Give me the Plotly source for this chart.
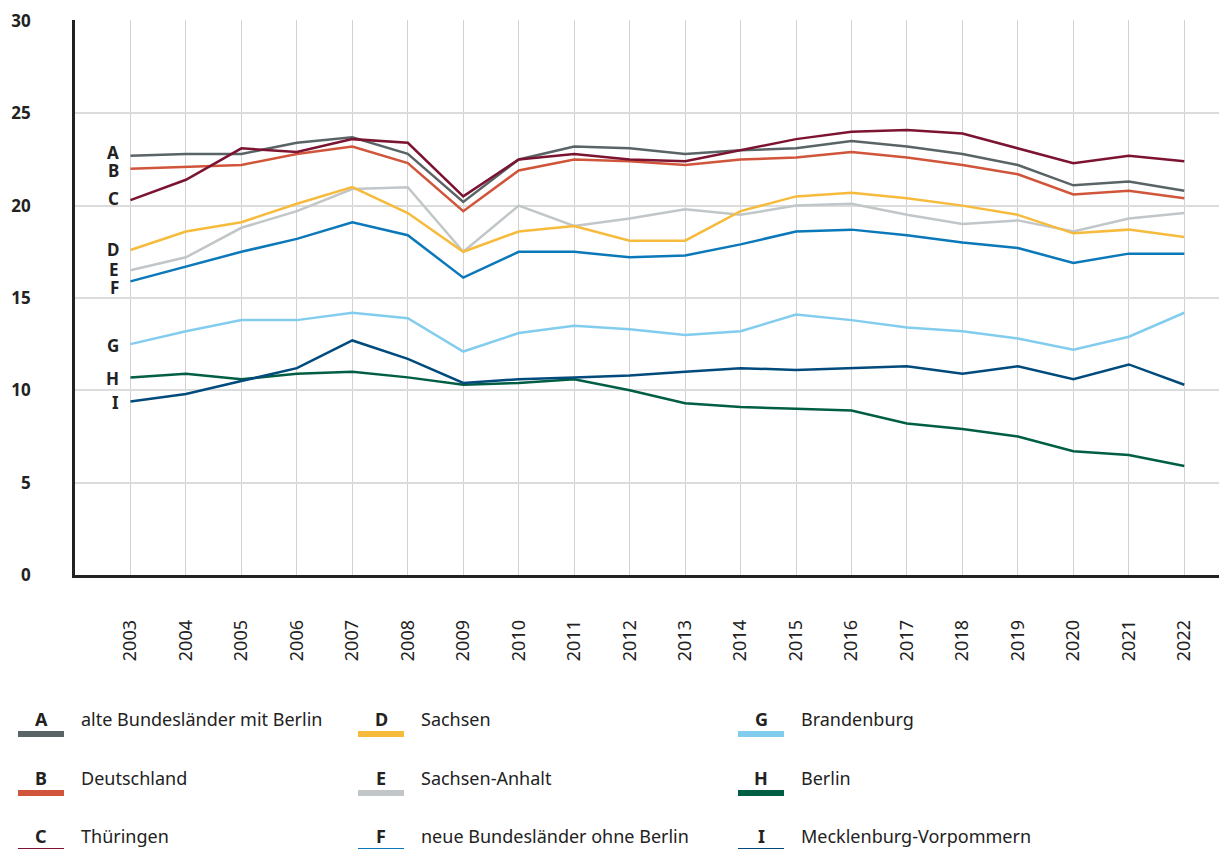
import plotly.graph_objects as go

# ── data ────────────────────────────────────────────────────────────────────
years = list(range(2003, 2023))

alte_laender   = [22.7, 22.8, 22.8, 23.4, 23.7, 22.8, 20.2, 22.5, 23.2, 23.1,
                  22.8, 23.0, 23.1, 23.5, 23.2, 22.8, 22.2, 21.1, 21.3, 20.8]
deutschland    = [22.0, 22.1, 22.2, 22.8, 23.2, 22.3, 19.7, 21.9, 22.5, 22.4,
                  22.2, 22.5, 22.6, 22.9, 22.6, 22.2, 21.7, 20.6, 20.8, 20.4]
thueringen     = [20.3, 21.4, 23.1, 22.9, 23.6, 23.4, 20.5, 22.5, 22.8, 22.5,
                  22.4, 23.0, 23.6, 24.0, 24.1, 23.9, 23.1, 22.3, 22.7, 22.4]
sachsen        = [17.6, 18.6, 19.1, 20.1, 21.0, 19.6, 17.5, 18.6, 18.9, 18.1,
                  18.1, 19.7, 20.5, 20.7, 20.4, 20.0, 19.5, 18.5, 18.7, 18.3]
sachsen_anhalt = [16.5, 17.2, 18.8, 19.7, 20.9, 21.0, 17.5, 20.0, 18.9, 19.3,
                  19.8, 19.5, 20.0, 20.1, 19.5, 19.0, 19.2, 18.6, 19.3, 19.6]
neue_laender   = [15.9, 16.7, 17.5, 18.2, 19.1, 18.4, 16.1, 17.5, 17.5, 17.2,
                  17.3, 17.9, 18.6, 18.7, 18.4, 18.0, 17.7, 16.9, 17.4, 17.4]
brandenburg    = [12.5, 13.2, 13.8, 13.8, 14.2, 13.9, 12.1, 13.1, 13.5, 13.3,
                  13.0, 13.2, 14.1, 13.8, 13.4, 13.2, 12.8, 12.2, 12.9, 14.2]
berlin         = [10.7, 10.9, 10.6, 10.9, 11.0, 10.7, 10.3, 10.4, 10.6, 10.0,
                  9.3, 9.1, 9.0, 8.9, 8.2, 7.9, 7.5, 6.7, 6.5, 5.9]
meck_vorp      = [9.4, 9.8, 10.5, 11.2, 12.7, 11.7, 10.4, 10.6, 10.7, 10.8,
                  11.0, 11.2, 11.1, 11.2, 11.3, 10.9, 11.3, 10.6, 11.4, 10.3]

letters = ["A", "B", "C", "D", "E", "F", "G", "H", "I"]
names = [
    "alte Bundesländer mit Berlin", "Deutschland", "Thüringen",
    "Sachsen", "Sachsen-Anhalt", "neue Bundesländer ohne Berlin",
    "Brandenburg", "Berlin", "Mecklenburg-Vorpommern",
]
series = [alte_laender, deutschland, thueringen, sachsen, sachsen_anhalt,
          neue_laender, brandenburg, berlin, meck_vorp]
colors = ["#5a6466", "#d0553a", "#7b1331", "#f6bb3d", "#c1c6c8",
          "#0a78b9", "#82cdee", "#005e45", "#004b7c"]

# y positions of the letter tags left of the lines (spread to avoid overlap)
tag_y = [22.9, 21.9, 20.4, 17.6, 16.55, 15.55, 12.45, 10.65, 9.35]

FONT = "Noto Sans"
INK = "#222222"

# the page body has an 8px margin; the figure is sized so that the
# plot area lands where it sits in the original picture
OFF = 8
W, H = 1227 - OFF, 849 - OFF
L, R, T, B = 75 - OFF, 0, 20 - OFF, 274
PW, PH = W - L - R, H - T - B


def px(x):
    # page pixel -> paper x
    return (x - OFF - L) / PW


def py(y):
    # page pixel -> paper y
    return (H - B - (y - OFF)) / PH


fig = go.Figure()

# light series first, darker ones on top
order = [4, 3, 5, 6, 7, 8, 1, 0, 2]
for i in order:
    fig.add_trace(go.Scatter(
        x=years, y=series[i], mode="lines", name=names[i],
        line=dict(color=colors[i], width=2.5),
        showlegend=False,
        hovertemplate="%{x}: %{y:.1f}<extra>" + names[i] + "</extra>",
    ))

annotations = []
shapes = []

# ── letter tags next to the first data point ───────────────────────────────
for lt, ty in zip(letters, tag_y):
    annotations.append(dict(
        x=years[0], y=ty, xref="x", yref="y", text=f"<b>{lt}</b>",
        showarrow=False, xanchor="right", yanchor="middle", xshift=-9,
        font=dict(family=FONT, size=17, color=INK),
    ))

# ── custom legend: letter above a coloured bar, name to the right ─────────
col_x = [18, 358, 738]      # left edge of bar, page px
row_y = [719, 778, 836]     # centre of letter, page px
bar_w = 46
for k in range(9):
    c, r = k // 3, k % 3
    x0, yc = col_x[c], row_y[r]
    annotations.append(dict(
        x=px(x0 + bar_w / 2), y=py(yc), xref="paper", yref="paper",
        text=f"<b>{letters[k]}</b>", showarrow=False,
        xanchor="center", yanchor="middle",
        font=dict(family=FONT, size=18, color=INK),
    ))
    annotations.append(dict(
        x=px(x0 + bar_w + 15), y=py(yc), xref="paper", yref="paper",
        text=names[k], showarrow=False, xanchor="left", yanchor="middle",
        font=dict(family=FONT, size=18, color=INK),
    ))
    shapes.append(dict(
        type="rect", xref="paper", yref="paper",
        x0=px(x0), x1=px(x0 + bar_w), y0=py(yc + 12), y1=py(yc + 18),
        fillcolor=colors[k], line=dict(width=0), layer="above",
    ))

fig.update_xaxes(
    range=[2002, 2022.77],
    tickvals=years, ticktext=[str(y) for y in years],
    tickangle=-90, ticklabelstandoff=35,
    tickfont=dict(family=FONT, size=18, color=INK),
    showgrid=True, gridcolor="#d2d2d2", gridwidth=1.4,
    showline=True, linecolor=INK, linewidth=2.6,
    zeroline=False, ticks="",
)
fig.update_yaxes(
    range=[0, 30.05], tickvals=[0, 5, 10, 15, 20, 25, 30],
    tickfont=dict(family=FONT, size=17, color=INK, weight="bold"),
    ticklabelstandoff=38, ticklabeloverflow="allow",
    showgrid=True, gridcolor="#dcdcdc", gridwidth=1.8,
    showline=True, linecolor=INK, linewidth=2.6,
    zeroline=False, ticks="",
)

fig.update_layout(
    width=W, height=H,
    margin=dict(l=L, r=R, t=T, b=B, autoexpand=False),
    paper_bgcolor="white", plot_bgcolor="white",
    font=dict(family=FONT, color=INK),
    annotations=annotations,
    shapes=shapes,
)

fig.write_html("out.html")
